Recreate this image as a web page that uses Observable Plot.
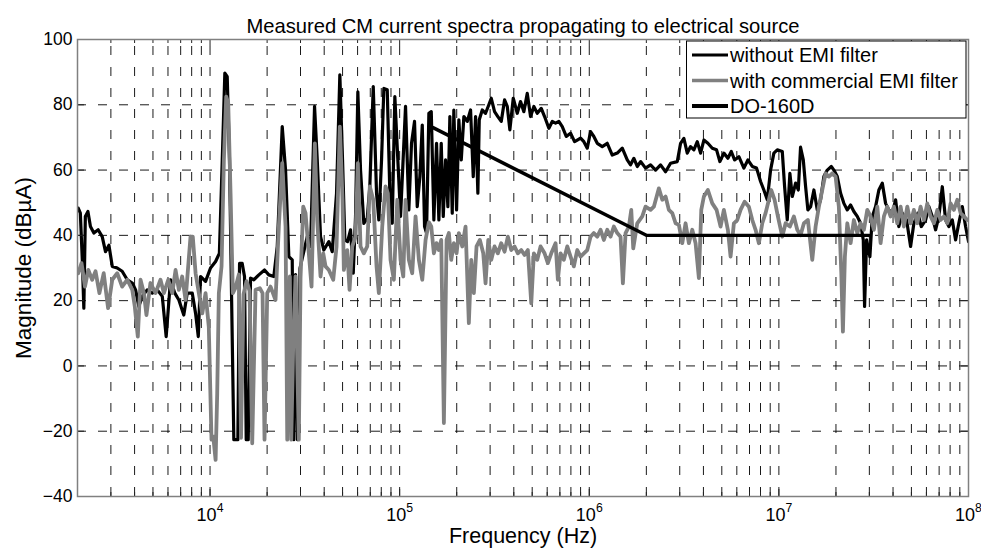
<!DOCTYPE html>
<html><head><meta charset="utf-8">
<script src="https://cdn.jsdelivr.net/npm/d3@7"></script>
<script src="https://cdn.jsdelivr.net/npm/@observablehq/plot@0.6"></script>
<style>
html,body{margin:0;padding:0;background:#fff;}
#chart{position:relative;width:981px;height:553px;}
</style></head><body><div id="chart"></div>
<script>
const titleText = "Measured CM current spectra propagating to electrical source";
const xLabel = "Frequency (Hz)";
const yLabel = "Magnitude (dBµA)";
const seriesNames = ["without EMI filter", "with commercial EMI filter", "DO-160D"];
const xDomain = [2e3, 1e8];
const yDomain = [-40, 100];
const yTicks = [-40, -20, 0, 20, 40, 60, 80, 100];
const xMajorTicks = [1e4, 1e5, 1e6, 1e7, 1e8];
const xMinorTicks = [3e3,4e3,5e3,6e3,7e3,8e3,9e3,
  2e4,3e4,4e4,5e4,6e4,7e4,8e4,9e4,
  2e5,3e5,4e5,5e5,6e5,7e5,8e5,9e5,
  2e6,3e6,4e6,5e6,6e6,7e6,8e6,9e6,
  2e7,3e7,4e7,5e7,6e7,7e7,8e7,9e7];

// Series 1: without EMI filter (Hz, dBµA)
const freqWithout = [2020,2070,2120,2160,2200,2270,2340,2440,2570,2700,2810,2930,3050,3240,3440,3660,3890,4050,4210,4390,4660,4960,5270,5600,5870,6190,6520,6850,7270,7580,8060,8390,8670,8910,9470,
10060,10700,11200,11600,11970,12320,12670,12980,13350,14020,14310,14780,15200,15520,15900,16350,17020,18090,19380,20420,21700,22620,24030,25020,26040,27130,27670,28240,28940,29820,32560,33890,35580,36760,38260,39830,42320,44100,46470,48370,49980,51400,53110,55080,56920,58530,60190,62190,64730,67460,69620,72570,75530,77670,80260,82530,86010,88770,91390,94330,97820,
101100,107400,111800,115500,119800,123800,127800,131600,135300,138600,142600,146800,151500,156500,161000,165700,169800,174600,179600,184000,189400,193100,199600,205200,211300,218100,227300,236600,244400,251400,258500,262900,272700,283800,295400,304200,316600,329500,343400,357500,369400,381300,397300,417100,434100,451900,471000,490200,510300,531700,558200,581100,612200,638100,664100,691200,720400,756200,796800,836400,864400,899800,936500,976000,
1016000,1057000,1102000,1171000,1244000,1322000,1405000,1493000,1586000,1651000,1719000,1791000,1865000,1981000,2105000,2237000,2377000,2526000,2684000,2912000,3031000,3154000,3287000,3422000,3562000,3712000,3864000,4022000,4222000,4454000,4692000,4884000,5127000,5383000,5610000,5839000,6152000,6537000,6863000,7239000,7627000,8007000,8333000,8685000,9040000,9409000,9808000,
10420000,10720000,11070000,11430000,11770000,12250000,12660000,13010000,13450000,13830000,14220000,14700000,15300000,15940000,16590000,17270000,18000000,18900000,19500000,20320000,21160000,22020000,22950000,23890000,24860000,25910000,26970000,27870000,28310000,29010000,30200000,31090000,32360000,33670000,35100000,36540000,38000000,39640000,41260000,42900000,44750000,47150000,49500000,51520000,54090000,56370000,59390000,61800000,64420000,67060000,69800000,72740000,75710000,78800000,82140000,85490000,88900000,92740000,96530000,100000000];
const magWithout = [48.3,46.8,32.5,17.7,45.8,47.3,42.7,40.7,41.7,39.6,35,37,30.5,30,29,26.4,25.4,23.3,18.2,21.3,23.3,22.3,23.3,21.3,9,26.4,22.3,20.2,15.6,22.3,22.3,16.1,9,27.4,25.9,
30,32,34.5,63.1,89.7,88.6,63,22.3,-22.6,-22.6,31.4,31.4,27.4,-22.6,-22.6,26.9,26.4,27.9,29.4,27.9,27.4,36.6,73.3,60,33.5,32.5,-22.6,28,-22.6,30,39.6,36.6,79.5,63.1,39.6,35.5,38.1,35,52.9,89.2,63.1,38.6,38.1,41.7,28.4,45.8,84,60,43.7,45.2,55,85.6,52.9,44.7,63.1,85,84.6,52.9,43.7,82.5,63.1,
45.8,79.5,47.8,68.2,74.9,48.8,58,73.8,42.7,40.7,77.4,77.9,44.7,68.2,44.7,68.2,45.8,63.1,48.8,76.4,46.8,78.4,47.8,75.4,63.1,76.4,74.9,78.4,58,76.4,52.9,75.4,78.4,77.4,80,82,77.9,76.4,74.9,81.5,79.5,72.3,82,77.4,81,77.9,83.5,76.4,79.5,77.4,78.9,76.4,72.8,74.9,74.4,74.9,73.3,70.3,71.3,68.7,69.2,69.8,68.7,66.7,
71.8,70.3,68.2,67.2,68.2,64.6,65.2,66.7,63.1,61.6,63.6,61.1,62.6,60.6,61.6,60,61.6,59.5,62.1,62.6,68.2,69.7,65.2,67.2,66.2,68.7,65.2,69.2,68.2,66.7,66.2,62.6,65.2,63.6,65.7,63.1,64.1,60.6,63.1,61.1,60.6,56.5,53.9,50.9,60,65.2,66.2,
65.7,54.9,44.7,59,51.9,56,53.9,67,63.1,55,47.8,48.8,53.9,47.8,50.9,58,60,61.1,60,58,52.9,49.8,47.8,49.3,47.3,45.8,43.7,38.6,18.2,38.6,33.5,45.8,48.8,53.9,56,49.8,47.8,46.8,50.9,42.7,46.8,44.7,36.6,43.7,46.8,42.7,44.7,48.8,45.8,41.7,45.8,54.9,44.7,42.7,44.7,38.6,43.7,48.8,42.7,38.1];

// Series 2: with commercial EMI filter (Hz, dBµA)
const freqWith = [2020,2100,2190,2280,2390,2490,2610,2750,2900,3050,3240,3440,3660,3890,4010,4160,4300,4480,4620,4850,5160,5480,5710,6020,6320,6580,6850,7130,7430,7890,8110,8390,8730,9100,9470,9850,
10180,10400,10700,10910,11130,11500,11830,12170,12470,12830,13190,13630,14190,14570,15020,15580,16160,16690,17380,18310,18920,19380,20030,20850,22150,23060,24030,25020,25540,26360,26810,27470,28240,29400,30010,31010,31890,33190,34300,35710,36760,38260,39540,40660,42320,44640,46470,48370,49980,50780,52920,54420,56230,58530,60190,62190,64730,67460,69620,72570,75530,77670,80940,84250,86650,89530,93200,97130,
101100,104500,107400,111800,116500,121300,126300,131600,137000,142600,146800,151500,156500,161000,165700,171100,176800,181800,187100,193100,199600,205200,213900,222600,231700,238600,246200,254400,264900,276000,283800,293300,304200,316600,329500,343400,357500,372100,387800,403600,420100,437800,455800,474400,494400,510300,531700,553500,581100,604800,630300,664100,683000,705700,734500,765500,796800,829300,864400,899800,936500,976000,
1016000,1057000,1102000,1147000,1194000,1244000,1295000,1348000,1405000,1462000,1504000,1554000,1618000,1665000,1706000,1791000,1903000,1981000,2105000,2191000,2329000,2427000,2526000,2629000,2740000,2852000,2969000,3094000,3220000,3352000,3493000,3636000,3785000,3897000,4022000,4222000,4454000,4692000,4926000,5127000,5383000,5562000,5790000,6034000,6280000,6593000,6946000,7239000,7535000,7843000,8174000,8508000,8856000,9117000,9491000,9879000,
10420000,10850000,11430000,12000000,12500000,13010000,13550000,14220000,15000000,15620000,16250000,16940000,17630000,18350000,19130000,19910000,20710000,21340000,21760000,22290000,22950000,23890000,24860000,25910000,26970000,28070000,29260000,30450000,31700000,33040000,34390000,35790000,37300000,38820000,40410000,42120000,43840000,45630000,47560000,49500000,51520000,53690000,55890000,58180000,60630000,63110000,65700000,68460000,71260000,74180000,77310000,80460000,83750000,87280000,90850000,94560000,98540000];
const magWith = [28.4,31.5,24.3,29.4,26.4,29,22.3,28.4,17.7,26.4,28.4,24.3,26.4,23.3,18.2,9,26.4,22.3,15.6,25.4,22.3,26.4,22.3,26.4,22.3,29.4,23.3,27.4,20.2,39.6,39.6,28.4,22.3,16.1,22.3,12,
-22.6,-21.6,-28.8,-8.4,22.3,30.5,63.1,82.5,80.5,52.9,22.3,24,28,-22,22,26,23,-23.7,23.3,23.8,22.3,-22.6,22.3,24.3,20.2,42.7,62.1,42.7,-22.6,27.4,-22.6,7,27.4,-22.6,27,48.8,46.8,34.5,24.3,68.2,44.7,27.4,34.5,30.5,29.4,26.4,36.6,73.3,50.9,29.4,35.5,23.3,36.6,39.6,62.1,36.6,34.5,36.6,55,50.9,30.5,22.3,42.7,55,52.9,32.5,26.4,50.9,
32.5,27.4,50.9,32.5,28.4,45.8,32.5,26.4,38.6,44,42.7,34.5,37.6,35.5,38.6,-17.5,38.6,40.7,32.5,37.6,34.5,40.7,36.6,42.7,13.1,32.5,22.3,36.6,38.6,34.5,25.3,38.6,32.5,36.6,34.5,37.6,35,39.6,35.5,36.6,34.5,35.5,34,35.5,19.2,34.5,32.5,36.6,34.5,31.5,34.5,37.6,26.4,34.5,32.5,36.6,33.5,30.5,35.5,33.5,34.5,35.5,
39.6,40.7,39.6,41.7,38.6,41.7,39.6,42.7,40.7,39.6,25.3,40.7,42.7,47.8,36,43.7,45.8,48.8,47.8,48.8,54.4,50.9,51.9,47.8,46.8,43.7,43.2,37.6,43.7,37.6,41.7,37.6,26.9,47.8,51.9,53.9,49.8,47.8,42.7,47.8,41.7,33.5,43.7,44.7,47.8,50.3,48.8,44.7,41.7,37.6,43.7,46.8,50.9,53.9,50.9,45.8,
39.6,43.7,42.7,45.8,41.7,40,43.7,44.7,32.5,42.7,48.8,53.9,59,58,59,58,48.8,28.4,10.5,33.5,43.7,37.6,44.7,40.7,43.7,41.7,47.8,45.8,41.7,48.8,37.6,45.8,48.8,45.8,48.8,43.7,48.8,42.7,48.8,43.7,47.8,43.7,48.8,44.7,49.8,45.8,43.7,47.8,44.7,45.8,43.7,49.8,47.8,50.9,46.8,45.8,44.7];

// Series 3: DO-160D limit (Hz, dBµA)
const freqLimit = [1.5e5, 2e6, 3e7];
const magLimit = [73, 40, 40];

const toRows = (fs, ms) => fs.map((f, i) => ({f, m: ms[i]}));
const withoutData = toRows(freqWithout, magWithout);
const withData = toRows(freqWith, magWith);
const limitData = toRows(freqLimit, magLimit);

const W = 981, H = 553, mL = 77, mR = 13, mT = 39, mB = 57;
const frameH = H - mT - mB, frameW = W - mL - mR;
const supDigits = {"4":"⁴","5":"⁵","6":"⁶","7":"⁷","8":"⁸"};
const gridX = xMinorTicks.concat(xMajorTicks.filter(v => v < xDomain[1]));
const gridY = yTicks.filter(v => v > yDomain[0] && v < yDomain[1]);
const dash = "9,12";
const font = "'Liberation Sans', Arial, Helvetica, sans-serif";

const plot = Plot.plot({
  width: W, height: H,
  marginLeft: mL, marginRight: mR, marginTop: mT, marginBottom: mB,
  x: {type: "log", domain: xDomain, label: null},
  y: {domain: yDomain, label: null},
  style: {fontFamily: font, fontSize: "17px", background: "#fff", color: "#000", overflow: "visible"},
  marks: [
    Plot.ruleY(gridY, {y: d => d, stroke: "#000", strokeWidth: 0.9, strokeDasharray: dash}),
    Plot.ruleX(gridX, {x: d => d, y1: yDomain[0], y2: yDomain[1], stroke: "#000", strokeWidth: 0.9, strokeDasharray: dash}),
    Plot.line(withoutData, {x: "f", y: "m", stroke: "#000", strokeWidth: 3.2, strokeLinejoin: "round", clip: true}),
    Plot.line(withData, {x: "f", y: "m", stroke: "#808080", strokeWidth: 3.8, strokeLinejoin: "round", clip: true}),
    Plot.line(limitData, {x: "f", y: "m", stroke: "#000", strokeWidth: 3.4}),
    Plot.tickX(xMajorTicks, {x: d => d, insetTop: frameH - 7, stroke: "#222"}),
    Plot.tickX(xMajorTicks, {x: d => d, insetBottom: frameH - 7, stroke: "#222"}),
    Plot.tickX(xMinorTicks, {x: d => d, insetTop: frameH - 4, stroke: "#222"}),
    Plot.tickX(xMinorTicks, {x: d => d, insetBottom: frameH - 4, stroke: "#222"}),
    Plot.tickY(yTicks, {y: d => d, insetRight: frameW - 7, stroke: "#222"}),
    Plot.tickY(yTicks, {y: d => d, insetLeft: frameW - 7, stroke: "#222"}),
    Plot.frame({stroke: "#808080", strokeWidth: 1.5}),
    Plot.axisX(xMajorTicks, {tickSize: 0, tickPadding: 12, label: null,
      tickFormat: d => "10" + supDigits[String(Math.round(Math.log10(d)))]}),
    Plot.axisY(yTicks, {tickSize: 0, tickPadding: 5, label: null}),
    Plot.text([titleText], {text: d => d, frameAnchor: "top", dy: -21, fontSize: 20.2}),
    Plot.text([xLabel], {text: d => d, frameAnchor: "bottom", dy: 46.5, fontSize: 21.5}),
    Plot.text([yLabel], {text: d => d, frameAnchor: "left", textAnchor: "middle", dx: -54, rotate: -90, fontSize: 22.5})
  ]
});

const svg = d3.select(plot);
// tick label fonts
svg.selectAll('g[aria-label="x-axis tick label"]').attr("font-size", 18).style("font-size", "18px");
svg.selectAll('g[aria-label="y-axis tick label"]').attr("font-size", 17.5).style("font-size", "17.5px");
// superscript exponents on x tick labels
const plain = {"⁴":"4","⁵":"5","⁶":"6","⁷":"7","⁸":"8"};
svg.selectAll('g[aria-label="x-axis tick label"] text').each(function () {
  const t = this.textContent;
  if (!t.startsWith("10")) return;
  const e = [...t.slice(2)].map(c => plain[c] || c).join("");
  this.textContent = "10";
  d3.select(this).append("tspan").attr("dy", "-0.72em").attr("font-size", "0.68em").text(e);
});

// legend
const lg = svg.append("g").attr("font-family", font).attr("font-size", 20).attr("text-anchor", "start");
lg.append("rect").attr("x", 686.5).attr("y", 41).attr("width", 279.5).attr("height", 77)
  .attr("fill", "#fff").attr("stroke", "#000").attr("stroke-width", 1);
const legendStyles = [{stroke: "#000", w: 3}, {stroke: "#808080", w: 3.6}, {stroke: "#000", w: 4}];
const rowY = [55, 80.5, 106];
seriesNames.forEach((name, i) => {
  lg.append("line").attr("x1", 692).attr("x2", 728).attr("y1", rowY[i]).attr("y2", rowY[i])
    .attr("stroke", legendStyles[i].stroke).attr("stroke-width", legendStyles[i].w);
  lg.append("text").attr("x", 730).attr("y", rowY[i] + 7).attr("fill", "#000").text(name);
});

document.getElementById("chart").appendChild(plot);
</script></body></html>
